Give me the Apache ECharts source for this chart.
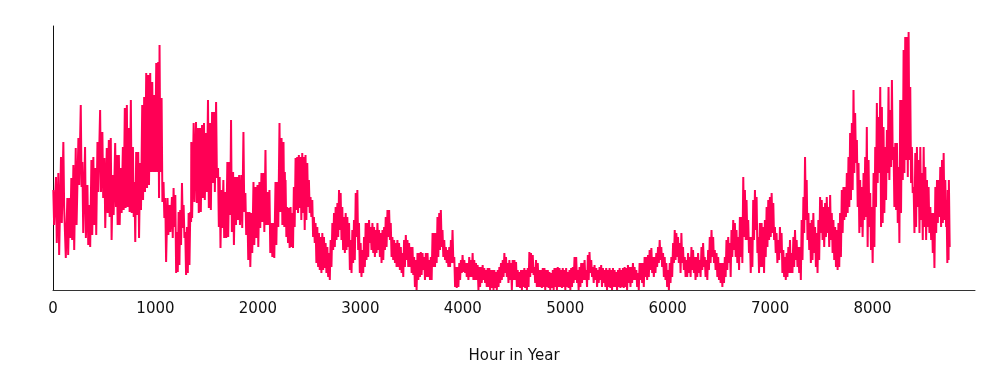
<!DOCTYPE html>
<html lang="en" style="height: 100%">
<head>
  <meta charset="utf-8">
  <title>Hour in Year</title>
  <style>
    body {
      margin: 0;
      background: #fff;
    }
    #container {
      width: 995px;
      height: 384px;
    }
  </style>
</head>
<body style="height: 100%">
  <div id="container"></div>

  <script type="text/javascript" src="https://fastly.jsdelivr.net/npm/echarts@6/dist/echarts.min.js"></script>

  <script type="text/javascript">
    // Readings of the hourly curve: for each sampled hour, the local peak and the local trough
    var sampleHours = [
      3, 29, 52, 78, 101, 117, 140, 160, 179, 199, 222, 248, 271, 287, 313, 336, 355, 375, 394, 414,
      434, 460, 482, 502, 525, 545, 564, 584, 607, 623, 643, 662, 682, 701, 721, 740, 760, 780, 795, 812,
      832, 851, 871, 890, 910, 929, 949, 969, 988, 1008, 1027, 1040, 1060, 1079, 1096, 1118, 1138,
      1161, 1177, 1194, 1210, 1226, 1242, 1259, 1275, 1291, 1308, 1324, 1340, 1350, 1373, 1396, 1415, 1435, 1455,
      1474, 1494, 1513, 1533, 1553, 1572, 1592, 1611, 1627, 1644, 1663, 1683, 1702, 1722, 1738, 1758, 1778, 1797,
      1817, 1839, 1859, 1878, 1898, 1918, 1937, 1957, 1976, 1996, 2015, 2035, 2055, 2074, 2094, 2113, 2133, 2152,
      2172, 2191, 2211, 2231, 2250, 2263,
      2270, 2286, 2302, 2319, 2335, 2351, 2368, 2384, 2400, 2416, 2433, 2449, 2465, 2482, 2498, 2514, 2531, 2547,
      2563, 2580, 2596, 2612, 2629, 2645, 2661, 2678, 2694, 2710, 2727, 2743, 2759, 2776, 2792, 2808, 2824, 2841,
      2857, 2873, 2890, 2906, 2922, 2938, 2955, 2971, 2987, 3003, 3020, 3036, 3052, 3069, 3085, 3101, 3118, 3134,
      3150, 3167, 3183, 3199, 3216, 3232, 3248, 3265, 3281, 3297, 3313, 3330, 3346, 3362, 3378,
      3395, 3411, 3427, 3444, 3460, 3476, 3493, 3509, 3525, 3541, 3558, 3574, 3590, 3607, 3623, 3639, 3656, 3672,
      3688, 3705, 3721, 3737, 3753, 3770, 3786, 3802, 3819, 3835, 3851, 3868, 3884, 3900, 3917, 3933, 3949, 3966,
      3982, 3998, 4015, 4031, 4047, 4063, 4080, 4096, 4112, 4129, 4145, 4161, 4177, 4194, 4210, 4226, 4243, 4259,
      4275, 4292, 4308, 4324, 4341, 4357, 4373, 4390, 4406, 4422, 4438, 4455, 4471, 4487, 4504,
      4520, 4536, 4552, 4569, 4585, 4601, 4618, 4634, 4650, 4666, 4683, 4699, 4715, 4732, 4748, 4764, 4781, 4797,
      4813, 4830, 4846, 4862, 4879, 4895, 4911, 4927, 4944, 4960, 4976, 4993, 5009, 5025, 5042, 5058, 5074, 5091,
      5107, 5123, 5140, 5156, 5172, 5189, 5205, 5221, 5237, 5254, 5270, 5286, 5303, 5319, 5335, 5351, 5368, 5384,
      5400, 5417, 5433, 5449, 5466, 5482, 5498, 5515, 5531, 5547, 5563, 5580, 5596, 5612, 5629,
      5645, 5661, 5677, 5694, 5710, 5726, 5743, 5759, 5775, 5792, 5808, 5824, 5841, 5857, 5873, 5889, 5906, 5922,
      5938, 5955, 5971, 5987, 6004, 6020, 6036, 6053, 6069, 6085, 6101, 6118, 6134, 6150, 6167, 6183, 6199, 6216,
      6232, 6248, 6264, 6281, 6297, 6313, 6330, 6346, 6362, 6379, 6395, 6411, 6428, 6444, 6460, 6477, 6493, 6509,
      6526, 6542, 6558, 6574, 6591, 6607, 6623, 6640, 6656, 6672, 6689, 6705, 6721, 6738, 6754,
      6770, 6786, 6803, 6819, 6835, 6852, 6868, 6884, 6900, 6917, 6933, 6949, 6966, 6982, 6998, 7015, 7031, 7047,
      7063, 7080, 7096, 7112, 7129, 7145, 7161, 7178, 7194, 7210, 7227, 7243, 7259, 7276, 7292, 7308, 7325, 7341,
      7357, 7374, 7390, 7406, 7422, 7439, 7455, 7471, 7488, 7504, 7520, 7537, 7553, 7569, 7586, 7602, 7618, 7635,
      7651, 7667, 7683, 7700, 7716, 7732, 7749, 7765, 7781, 7798, 7814, 7830, 7847, 7863, 7879,
      7895, 7912, 7928, 7944, 7961, 7977, 7993, 8010, 8026, 8042, 8058, 8075, 8091, 8107, 8124, 8140, 8156, 8173,
      8189, 8205, 8222, 8238, 8254, 8270, 8287, 8303, 8319, 8336, 8352, 8368, 8384, 8401, 8417, 8433, 8450, 8466,
      8482, 8499, 8515, 8531, 8547, 8564, 8580, 8596, 8613, 8629, 8645, 8661, 8678, 8694, 8710, 8722, 8734, 8745
    ];

    var peakValues = [
      100, 113, 117, 133, 148, 82, 92, 92, 112, 125, 142, 152, 185, 128, 143, 105, 85, 130, 133, 122,
      148, 180, 158, 132, 142, 150, 152, 115, 147, 135, 135, 122, 143, 182, 185, 162, 190, 143, 108, 138,
      138, 127, 185, 193, 217, 215, 217, 208, 195, 227, 228, 245, 192, 108, 92, 92, 85,
      93, 102, 95, 58, 78, 80, 107, 85, 58, 63, 77, 78, 148, 167, 168, 162, 162, 165,
      167, 157, 190, 167, 178, 178, 188, 122, 113, 100, 110, 98, 128, 128, 170, 118, 113, 113,
      115, 115, 158, 97, 78, 78, 77, 108, 103, 105, 108, 117, 117, 140, 98, 100, 67, 67,
      108, 108, 167, 152, 148, 118,
      110, 83, 82, 83, 77, 103, 132, 133, 135, 133, 137, 133, 135, 127, 110, 93, 90, 73,
      67, 63, 57, 53, 57, 53, 47, 43, 37, 50, 67, 77, 83, 87, 100, 97, 83, 73,
      77, 73, 67, 50, 60, 70, 97, 100, 67, 47, 40, 53, 67, 67, 70, 63, 67, 63,
      60, 67, 60, 57, 60, 63, 73, 80, 80, 67, 53, 50, 47, 50, 47,
      43, 37, 50, 55, 50, 47, 43, 43, 33, 30, 37, 37, 38, 37, 33, 37, 37, 30,
      33, 57, 57, 57, 73, 77, 80, 60, 50, 43, 40, 43, 50, 60, 33, 23, 23, 27,
      30, 35, 30, 27, 27, 33, 30, 37, 30, 27, 25, 23, 23, 25, 22, 20, 22, 22,
      20, 20, 20, 18, 20, 23, 27, 30, 37, 33, 27, 30, 27, 30, 30,
      28, 20, 18, 20, 20, 22, 20, 22, 38, 37, 35, 23, 30, 27, 20, 20, 22, 22,
      20, 20, 18, 17, 20, 22, 22, 23, 22, 20, 22, 20, 22, 18, 20, 22, 23, 33,
      33, 20, 23, 27, 27, 30, 20, 35, 38, 30, 23, 25, 22, 20, 23, 25, 22, 20,
      22, 20, 22, 20, 22, 20, 18, 20, 22, 20, 22, 23, 22, 25, 23,
      23, 27, 23, 20, 17, 27, 27, 27, 33, 33, 35, 40, 42, 33, 33, 37, 43, 50,
      43, 37, 33, 27, 20, 27, 33, 47, 60, 57, 53, 47, 57, 43, 33, 30, 37, 33,
      43, 40, 33, 33, 37, 30, 43, 47, 33, 30, 40, 53, 60, 53, 40, 37, 33, 27,
      27, 27, 33, 50, 53, 47, 60, 70, 67, 60, 53, 73, 73, 113, 100,
      90, 70, 53, 53, 90, 100, 93, 53, 67, 67, 63, 70, 83, 90, 93, 97, 87, 63,
      57, 50, 63, 57, 40, 33, 37, 43, 50, 37, 53, 60, 50, 43, 43, 70, 93, 133,
      110, 77, 67, 70, 77, 63, 57, 70, 93, 90, 83, 87, 93, 83, 95, 77, 70, 63,
      60, 67, 77, 100, 103, 103, 117, 133, 157, 167, 200, 177, 150, 127, 110,
      103, 117, 133, 163, 130, 97, 83, 117, 143, 187, 173, 203, 183, 163, 143, 160, 203, 180,
      210, 143, 147, 147, 123, 190, 190, 240, 253, 253, 258, 203, 143, 103, 137, 143, 130, 143,
      117, 143, 123, 110, 103, 83, 77, 77, 103, 110, 110, 123, 130, 137, 110, 90, 100, 110
    ];

    var troughValues = [
      65, 47, 35, 67, 82, 32, 35, 52, 50, 40, 65, 105, 103, 57, 52, 45, 43, 55, 65, 55,
      98, 98, 92, 62, 77, 73, 50, 75, 83, 65, 65, 77, 80, 82, 83, 78, 77, 73, 48, 75,
      52, 80, 90, 98, 102, 105, 118, 118, 118, 118, 92, 118, 88, 72, 28, 55, 58,
      52, 63, 17, 18, 25, 45, 62, 52, 15, 17, 25, 68, 72, 88, 87, 77, 78, 92,
      90, 98, 82, 80, 107, 98, 112, 63, 42, 62, 52, 52, 53, 75, 58, 45, 65, 70,
      65, 62, 78, 55, 30, 23, 37, 45, 52, 43, 62, 68, 58, 65, 65, 37, 33, 32,
      45, 63, 78, 65, 63, 63,
      53, 47, 42, 43, 42, 63, 80, 77, 82, 70, 77, 60, 70, 83, 77, 73, 53, 47,
      27, 23, 20, 17, 20, 22, 17, 13, 10, 23, 40, 43, 50, 53, 60, 50, 40, 37,
      40, 43, 20, 17, 27, 30, 53, 40, 17, 13, 17, 23, 30, 33, 47, 40, 37, 33,
      37, 40, 33, 27, 30, 40, 43, 53, 50, 33, 30, 27, 23, 23, 20,
      17, 13, 23, 30, 23, 23, 17, 15, 3, 0, 10, 13, 15, 20, 10, 13, 13, 10,
      10, 23, 23, 27, 33, 40, 43, 33, 30, 27, 23, 23, 27, 27, 3, 2, 3, 10,
      17, 18, 17, 13, 10, 13, 13, 10, 10, 10, 0, 3, 7, 10, 7, 3, 3, 0,
      2, 0, 2, 0, 3, 7, 10, 13, 17, 13, 7, 10, 0, 10, 10,
      3, 3, 2, 0, 3, 2, 0, 3, 13, 17, 15, 7, 3, 3, 3, 2, 3, 0,
      3, 2, 0, 2, 0, 3, 0, 3, 3, 2, 3, 0, 3, 2, 0, 3, 7, 10,
      7, 0, 3, 7, 10, 10, 3, 10, 17, 13, 7, 10, 3, 7, 10, 3, 7, 3,
      0, 3, 2, 0, 3, 3, 0, 3, 2, 3, 2, 3, 0, 7, 3,
      7, 10, 10, 3, 0, 10, 7, 3, 13, 10, 13, 20, 17, 13, 17, 23, 27, 30,
      23, 13, 10, 3, 0, 7, 13, 27, 30, 33, 27, 17, 27, 20, 13, 13, 17, 13,
      20, 17, 10, 13, 17, 13, 20, 23, 13, 10, 20, 27, 33, 27, 20, 13, 10, 7,
      3, 7, 13, 20, 27, 13, 33, 40, 33, 27, 20, 33, 27, 53, 50,
      50, 37, 17, 23, 50, 60, 37, 17, 23, 23, 17, 33, 43, 50, 53, 57, 50, 37,
      27, 30, 37, 17, 13, 10, 13, 17, 17, 17, 23, 30, 23, 17, 10, 30, 57, 70,
      50, 40, 27, 30, 37, 23, 17, 30, 57, 50, 43, 53, 57, 43, 50, 37, 30, 23,
      20, 23, 33, 57, 70, 73, 77, 83, 90, 100, 117, 127, 83, 57, 63,
      53, 70, 73, 43, 63, 40, 27, 43, 83, 107, 117, 63, 67, 77, 90, 117, 110, 123,
      130, 83, 80, 67, 47, 77, 110, 117, 130, 113, 130, 107, 97, 57, 63, 83, 57, 70,
      50, 63, 50, 63, 57, 50, 37, 22, 57, 67, 73, 63, 67, 70, 63, 27, 30, 43
    ];

    var xTicks = [0, 1000, 2000, 3000, 4000, 5000, 6000, 7000, 8000];

    // Interleave peaks and troughs so the line zig-zags like the hourly record
    var lineData = [];
    for (var i = 0; i < sampleHours.length; i++) {
      lineData.push([sampleHours[i], peakValues[i]]);
      lineData.push([Math.min(sampleHours[i] + 8, 8759), troughValues[i]]);
    }

    var dom = document.getElementById('container');
    var myChart = echarts.init(dom, null, { renderer: 'canvas' });

    var option = {
      animation: false,
      backgroundColor: '#fff',
      grid: {
        left: 53,
        right: 20,
        top: 26,
        bottom: 94
      },
      xAxis: {
        type: 'value',
        min: 0,
        max: 9000,
        interval: 1000,
        name: 'Hour in Year',
        nameLocation: 'middle',
        nameGap: 59,
        nameTextStyle: {
          color: '#111',
          fontSize: 15,
          fontFamily: 'DejaVu Sans'
        },
        axisLine: { show: true, lineStyle: { color: '#333', width: 1 } },
        axisTick: { show: false },
        splitLine: { show: false },
        axisLabel: {
          color: '#111',
          fontSize: 15,
          fontFamily: 'DejaVu Sans',
          margin: 12,
          showMaxLabel: false,
          formatter: function (v) {
            return xTicks.indexOf(v) >= 0 ? String(v) : '';
          }
        }
      },
      yAxis: {
        type: 'value',
        min: 0,
        max: 264,
        axisLine: { show: true, lineStyle: { color: '#111', width: 1 } },
        axisTick: { show: false },
        axisLabel: { show: false },
        splitLine: { show: false }
      },
      series: [
        {
          type: 'line',
          data: lineData,
          showSymbol: false,
          symbol: 'none',
          sampling: null,
          lineStyle: { color: '#ff0055', width: 2 },
          itemStyle: { color: '#ff0055' }
        }
      ]
    };

    myChart.setOption(option);
    window.addEventListener('resize', myChart.resize);
  </script>
</body>
</html>
